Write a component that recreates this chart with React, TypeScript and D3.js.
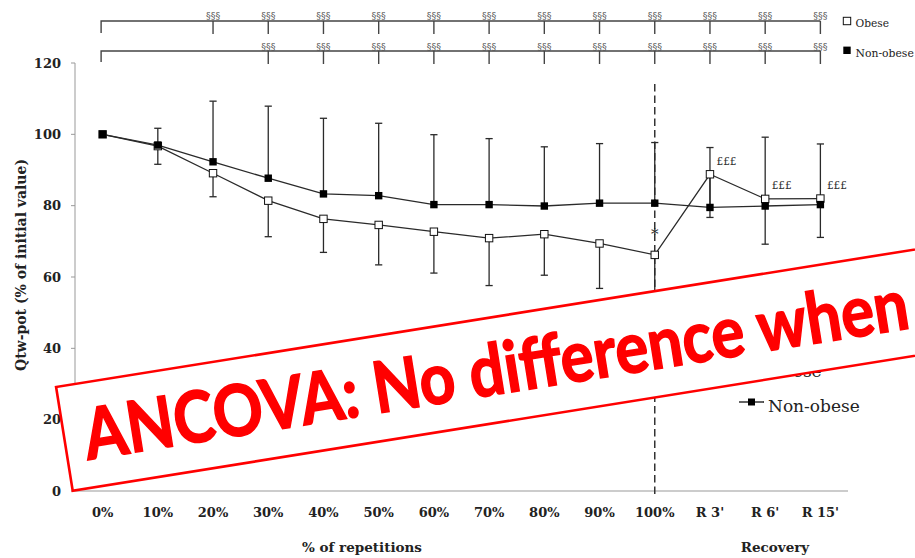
import React from "react";
import * as d3 from "d3";

const categories = ["0%", "10%", "20%", "30%", "40%", "50%", "60%", "70%", "80%", "90%", "100%", "R 3'", "R 6'", "R 15'"];
const obese = [100, 96.7, 89.1, 81.4, 76.3, 74.6, 72.7, 70.9, 72.0, 69.4, 66.2, 88.8, 81.9, 82.0];
const obeseSDminus = [0, 5.1, 6.6, 10.1, 9.4, 11.2, 11.6, 13.3, 11.5, 12.6, 20, 12.1, 12.7, 10.9];
const nonObese = [100, 97.0, 92.3, 87.7, 83.3, 82.8, 80.3, 80.3, 79.9, 80.7, 80.7, 79.5, 79.9, 80.3];
const nonObeseSDplus = [0, 4.7, 17.0, 20.2, 21.2, 20.3, 19.6, 18.5, 16.6, 16.7, 17.0, 16.8, 19.3, 17.0];
const yTicks = [0, 20, 40, 60, 80, 100, 120];
const bracket1Marks = ["20%", "30%", "40%", "50%", "60%", "70%", "80%", "90%", "100%", "R 3'", "R 6'", "R 15'"];
const bracket2Marks = ["30%", "40%", "50%", "60%", "70%", "80%", "90%", "100%", "R 3'", "R 6'", "R 15'"];
const poundMarks = ["R 3'", "R 6'", "R 15'"];
const starMark = "100%";
const dividerCategory = "100%";
const overlayText = "ANCOVA: No difference when";

const W = 915;
const H = 558;

export default function App() {
  const x = d3.scaleBand<string>().domain(categories).range([75, 848]).padding(0);
  const cx = (c: string) => (x(c) as number) + x.bandwidth() / 2;
  const y = d3.scaleLinear().domain([0, 120]).range([491, 63]);
  const line = d3
    .line<number>()
    .x((_, i) => cx(categories[i]))
    .y((d) => y(d));

  const serif = "'DejaVu Serif', serif";
  const dark = "#2a2a2a";
  const sq = 7.4;
  const cap = 3.6;

  const bracket = (yLine: number, marks: string[], leftDrop: number, tickDrop: number, labelY: number, key: string) => {
    const x0 = cx(categories[0]) - 1.5;
    const x1 = cx(marks[marks.length - 1]);
    return (
      <g key={key}>
        <path d={`M${x0},${yLine + leftDrop}V${yLine}H${x1}`} fill="none" stroke="#444" strokeWidth={1.4} />
        {marks.map((m) => (
          <g key={m}>
            <line x1={cx(m)} x2={cx(m)} y1={yLine} y2={yLine + tickDrop} stroke="#444" strokeWidth={1.4} />
            <text x={cx(m)} y={labelY} textAnchor="middle" fontFamily={serif} fontSize={9.5} fill="#555">
              §§§
            </text>
          </g>
        ))}
      </g>
    );
  };

  return (
    <svg width={W} height={H} style={{ position: "absolute", left: 0, top: 0, background: "#fff" }}>
      {/* axes */}
      <line x1={75} x2={75} y1={y(120)} y2={y(0)} stroke="#999" strokeWidth={1} />
      <line x1={75} x2={848} y1={y(0)} y2={y(0)} stroke="#999" strokeWidth={1.2} />
      {yTicks.map((t) => (
        <g key={t}>
          <line x1={71} x2={75} y1={y(t)} y2={y(t)} stroke="#999" strokeWidth={1} />
          <text x={61} y={y(t)} dy="0.35em" textAnchor="end" fontFamily={serif} fontWeight="bold" fontSize={13} fill="#222">
            {t}
          </text>
        </g>
      ))}
      {categories.map((c) => (
        <text key={c} x={cx(c)} y={517} textAnchor="middle" fontFamily={serif} fontWeight="bold" fontSize={13} fill="#222">
          {c}
        </text>
      ))}
      <text x={362} y={552} textAnchor="middle" fontFamily={serif} fontWeight="bold" fontSize={13.5} fill="#222">
        % of repetitions
      </text>
      <text x={775} y={552} textAnchor="middle" fontFamily={serif} fontWeight="bold" fontSize={13.5} fill="#222">
        Recovery
      </text>
      <text
        transform={`translate(26,265) rotate(-90)`}
        textAnchor="middle"
        fontFamily={serif}
        fontWeight="bold"
        fontSize={14}
        fill="#222"
      >
        Qtw-pot (% of initial value)
      </text>

      {/* divider */}
      <line
        x1={cx(dividerCategory)}
        x2={cx(dividerCategory)}
        y1={84}
        y2={495}
        stroke="#333"
        strokeWidth={1.5}
        strokeDasharray="7.5,4"
      />

      {/* brackets */}
      {bracket(21, bracket1Marks, 12, 13, 19, "b1")}
      {bracket(51, bracket2Marks, 11, 13, 49.5, "b2")}

      {/* top legend */}
      <rect x={847 - 3.7} y={21 - 3.7} width={7.4} height={7.4} fill="#fff" stroke="#111" strokeWidth={1} />
      <text x={855.5} y={27} fontFamily={serif} fontSize={10.6} fill="#222">Obese</text>
      <rect x={847 - 3.7} y={50.3 - 3.7} width={7.4} height={7.4} fill="#000" />
      <text x={855.5} y={56.5} fontFamily={serif} fontSize={10.8} fill="#222">Non-obese</text>

      {/* error bars */}
      {obese.map((v, i) =>
        obeseSDminus[i] > 0 ? (
          <g key={"eo" + i} stroke={dark} strokeWidth={1.3}>
            <line x1={cx(categories[i])} x2={cx(categories[i])} y1={y(v)} y2={y(v - obeseSDminus[i])} />
            <line x1={cx(categories[i]) - cap} x2={cx(categories[i]) + cap} y1={y(v - obeseSDminus[i])} y2={y(v - obeseSDminus[i])} />
          </g>
        ) : null
      )}
      {nonObese.map((v, i) =>
        nonObeseSDplus[i] > 0 ? (
          <g key={"en" + i} stroke={dark} strokeWidth={1.3}>
            <line x1={cx(categories[i])} x2={cx(categories[i])} y1={y(v)} y2={y(v + nonObeseSDplus[i])} />
            <line x1={cx(categories[i]) - cap} x2={cx(categories[i]) + cap} y1={y(v + nonObeseSDplus[i])} y2={y(v + nonObeseSDplus[i])} />
          </g>
        ) : null
      )}

      {/* lines */}
      <path d={line(obese) || ""} fill="none" stroke={dark} strokeWidth={1.3} />
      <path d={line(nonObese) || ""} fill="none" stroke={dark} strokeWidth={1.3} />
      {obese.map((v, i) => (
        <rect key={"mo" + i} x={cx(categories[i]) - sq / 2} y={y(v) - sq / 2} width={sq} height={sq} fill="#fff" stroke="#111" strokeWidth={1} />
      ))}
      {nonObese.map((v, i) => (
        <rect key={"mn" + i} x={cx(categories[i]) - sq / 2} y={y(nonObese[i]) - sq / 2} width={sq} height={sq} fill="#000" />
      ))}

      {/* annotations */}
      {poundMarks.map((m) => {
        const i = categories.indexOf(m);
        return (
          <text key={m} x={cx(m) + 6.5} y={y(obese[i]) - 9.5} fontFamily={serif} fontSize={10.5} fill="#333">
            £££
          </text>
        );
      })}
      <text x={cx(starMark)} y={y(obese[categories.indexOf(starMark)]) - 16} textAnchor="middle" fontFamily={serif} fontSize={15} fill="#222">
        *
      </text>

      {/* legend behind overlay */}
      <line x1={739} x2={764} y1={368} y2={368} stroke="#111" strokeWidth={1.3} />
      <rect x={751.5 - 3.5} y={368 - 3.5} width={7} height={7} fill="#fff" stroke="#111" />
      <text x={768} y={377} fontFamily={serif} fontSize={17} fill="#222">Obese</text>
      <line x1={739} x2={764} y1={402} y2={402} stroke="#111" strokeWidth={1.3} />
      <rect x={751.5 - 3.5} y={402 - 3.5} width={7} height={7} fill="#000" />
      <text x={768} y={411.5} fontFamily={serif} fontSize={17} fill="#222">Non-obese</text>

      {/* overlay stamp */}
      <g transform="translate(72.7,490.7) rotate(-9.1)">
        <rect x={0} y={-105} width={1000} height={105} fill="#fff" stroke="#ff0000" strokeWidth={2.6} />
        <text
          x={20}
          y={-28}
          fontFamily="Lato, 'Open Sans', sans-serif"
          fontWeight="bold"
          fontSize={71}
          fill="#ff0000"
          stroke="#ff0000"
          strokeWidth={1.6}
          textLength={834}
          lengthAdjust="spacingAndGlyphs"
        >
          {overlayText}
        </text>
      </g>
    </svg>
  );
}
